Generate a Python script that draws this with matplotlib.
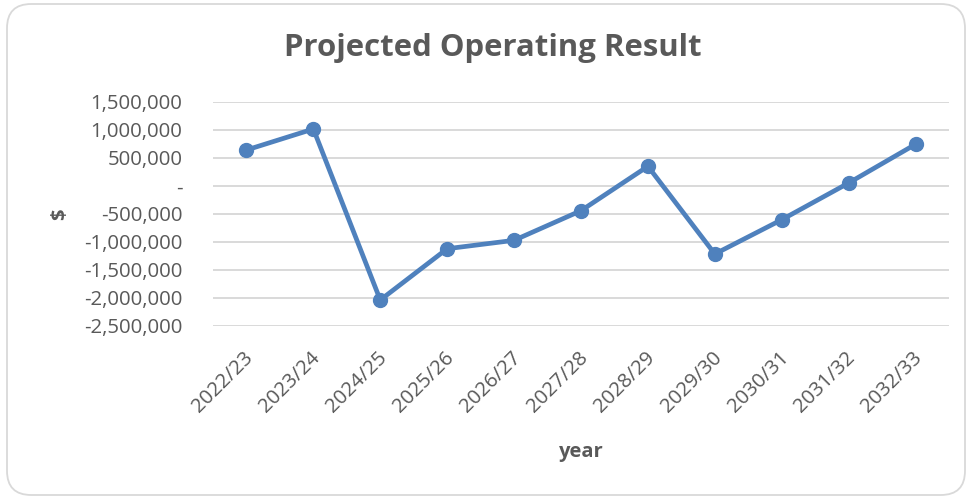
import matplotlib
matplotlib.use("Agg")
import matplotlib.pyplot as plt
from matplotlib.patches import FancyBboxPatch
from matplotlib.ticker import FuncFormatter, MultipleLocator
from matplotlib.transforms import ScaledTranslation

years = ["2022/23", "2023/24", "2024/25", "2025/26", "2026/27", "2027/28",
         "2028/29", "2029/30", "2030/31", "2031/32", "2032/33"]
result = [643000, 1018000, -2036000, -1120000, -970000, -441000,
          352000, -1214000, -602000, 54000, 745000]

GRAY = "#595959"
BLUE = "#4f81bd"
plt.rcParams['font.family'] = ['Open Sans', 'DejaVu Sans']

fig = plt.figure(figsize=(9.68, 4.97), dpi=100)
fig.patch.set_facecolor("white")

border = FancyBboxPatch((7 / 968, 2 / 497), 958 / 968, 491 / 497,
                        boxstyle="round,pad=0,rounding_size=0.025",
                        transform=fig.transFigure, facecolor="none",
                        edgecolor="#d9d9d9", linewidth=1.3, zorder=-1,
                        mutation_aspect=968 / 497)
fig.patches.append(border)

ax = fig.add_axes([213 / 968, 1 - 326 / 497, 736 / 968, 224 / 497])
ax.set_facecolor("none")
x = list(range(len(years)))
ax.plot(x, result, color=BLUE, linewidth=3.4, marker="o", markersize=10,
        zorder=3, solid_joinstyle="round")

ax.set_xlim(-0.5, len(years) - 0.5)
ax.set_ylim(-2500000, 1500000)
ax.yaxis.set_major_locator(MultipleLocator(500000))

def fmt(v, pos):
    if abs(v) < 1:
        return "-"
    return f"{int(round(v)):,}"

ax.yaxis.set_major_formatter(FuncFormatter(fmt))
ax.grid(axis="y", color="#d9d9d9", linewidth=1.4)
ax.set_axisbelow(True)
for s in ax.spines.values():
    s.set_visible(False)
ax.tick_params(axis="both", length=0, colors=GRAY, labelsize=14.7)
ax.tick_params(axis="y", pad=22)
ax.tick_params(axis="x", pad=16)
ax.set_xticks(x)
ax.set_xticklabels(years, rotation=45, ha="right", rotation_mode="default")
offset = ScaledTranslation(11 / 100, 0, fig.dpi_scale_trans)
for lab in ax.get_xticklabels():
    lab.set_transform(lab.get_transform() + offset)

fig.text(493 / 968, 1 - 48 / 497, "Projected Operating Result", ha="center",
         va="center", fontsize=22.4, fontweight="bold", color=GRAY)
fig.text(581 / 968, 1 - 452 / 497, "year", ha="center", va="center",
         fontsize=14.5, fontweight="bold", color=GRAY)
fig.text(60 / 968, 1 - 214 / 497, "$", ha="center", va="center", rotation=90,
         fontsize=14.5, fontweight="bold", color=GRAY)

fig.savefig("out.png", dpi=100, facecolor="white")
